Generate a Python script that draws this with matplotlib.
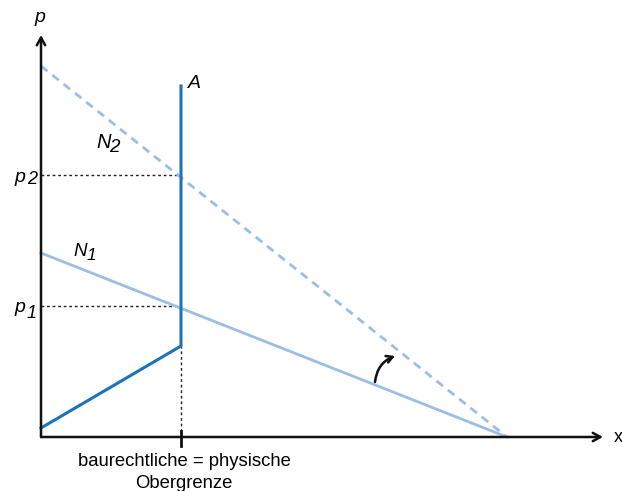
import numpy as np
import matplotlib.pyplot as plt

plt.rcParams['font.family'] = ['Liberation Sans', 'DejaVu Sans']

# data in chart units (1 unit = 10 px, origin at axis crossing)
n2_x = [0.0, 46.6]          # demand N2 (dashed)
n2_p = [37.1, 0.0]
n1_x = [0.0, 46.6]          # demand N1
n1_p = [18.4, 0.0]
a_x = [0.0, 14.0, 14.0]     # supply A
a_p = [0.9, 9.1, 35.1]
x_cap = 14.0
p1 = 13.1
p2 = 26.2

dark_blue = '#1a74bb'
light_blue = '#9dbde6'

fig = plt.figure(figsize=(6.22, 4.91), dpi=100)
ax = fig.add_axes([0, 0, 1, 1])
ax.set_xlim(-4.1, 58.1)
ax.set_ylim(-5.4, 43.7)
ax.axis('off')

# axes with arrows
arr = dict(arrowstyle='->,head_length=0.55,head_width=0.3', lw=1.8, color='#111111',
           shrinkA=0, shrinkB=0)
ax.annotate('', xy=(56.2, 0), xytext=(0, 0), arrowprops=arr)
ax.annotate('', xy=(0, 40.2), xytext=(0, 0), arrowprops=arr)
ax.text(-0.1, 42.0, 'p', fontsize=14, style='italic', ha='center', va='center')
ax.text(57.3, -0.1, 'x', fontsize=13, ha='left', va='center')

# guide lines
ax.plot([0, x_cap], [p2, p2], ls=(0, (2, 2)), color='#222222', lw=1)
ax.plot([0, x_cap], [p1, p1], ls=(0, (2, 2)), color='#222222', lw=1)
ax.plot([x_cap, x_cap], [0, a_p[1]], ls=(0, (2, 2)), color='#222222', lw=1)
ax.plot([x_cap, x_cap], [-0.9, 0.6], color='#111111', lw=2)

# demand curves
ax.plot(n2_x, n2_p, color=light_blue, lw=2, ls=(0, (3, 2.2)))
ax.plot(n1_x, n1_p, color=light_blue, lw=2)
# supply
ax.plot(a_x, a_p, color=dark_blue, lw=2.2)

# shift arrow
ax.annotate('', xy=(35.4, 8.1), xytext=(33.4, 5.5),
            arrowprops=dict(arrowstyle='->,head_length=0.45,head_width=0.25', lw=1.8,
                            color='#111111', shrinkA=0, shrinkB=0,
                            connectionstyle='arc3,rad=-0.3'))

# labels
ax.text(14.7, 35.3, 'A', fontsize=14, style='italic', ha='left', va='center')
ax.text(5.5, 29.5, 'N', fontsize=14.5, style='italic', ha='left', va='center')
ax.text(6.85, 28.9, '2', fontsize=13.5, style='italic', ha='left', va='center')
ax.text(3.2, 18.6, 'N', fontsize=13.5, style='italic', ha='left', va='center')
ax.text(4.55, 18.1, '1', fontsize=12.5, style='italic', ha='left', va='center')
ax.text(-1.6, 26.0, 'p', fontsize=14, style='italic', ha='right', va='center')
ax.text(-1.4, 25.7, '2', fontsize=13, style='italic', ha='left', va='center')
ax.text(-1.6, 12.9, 'p', fontsize=14, style='italic', ha='right', va='center')
ax.text(-1.4, 12.3, '1', fontsize=13, style='italic', ha='left', va='center')

ax.text(x_cap + 0.3, -1.6, 'baurechtliche = physische\nObergrenze', fontsize=13.3,
        ha='center', va='top', linespacing=1.35)

fig.savefig('out.png', dpi=100)
